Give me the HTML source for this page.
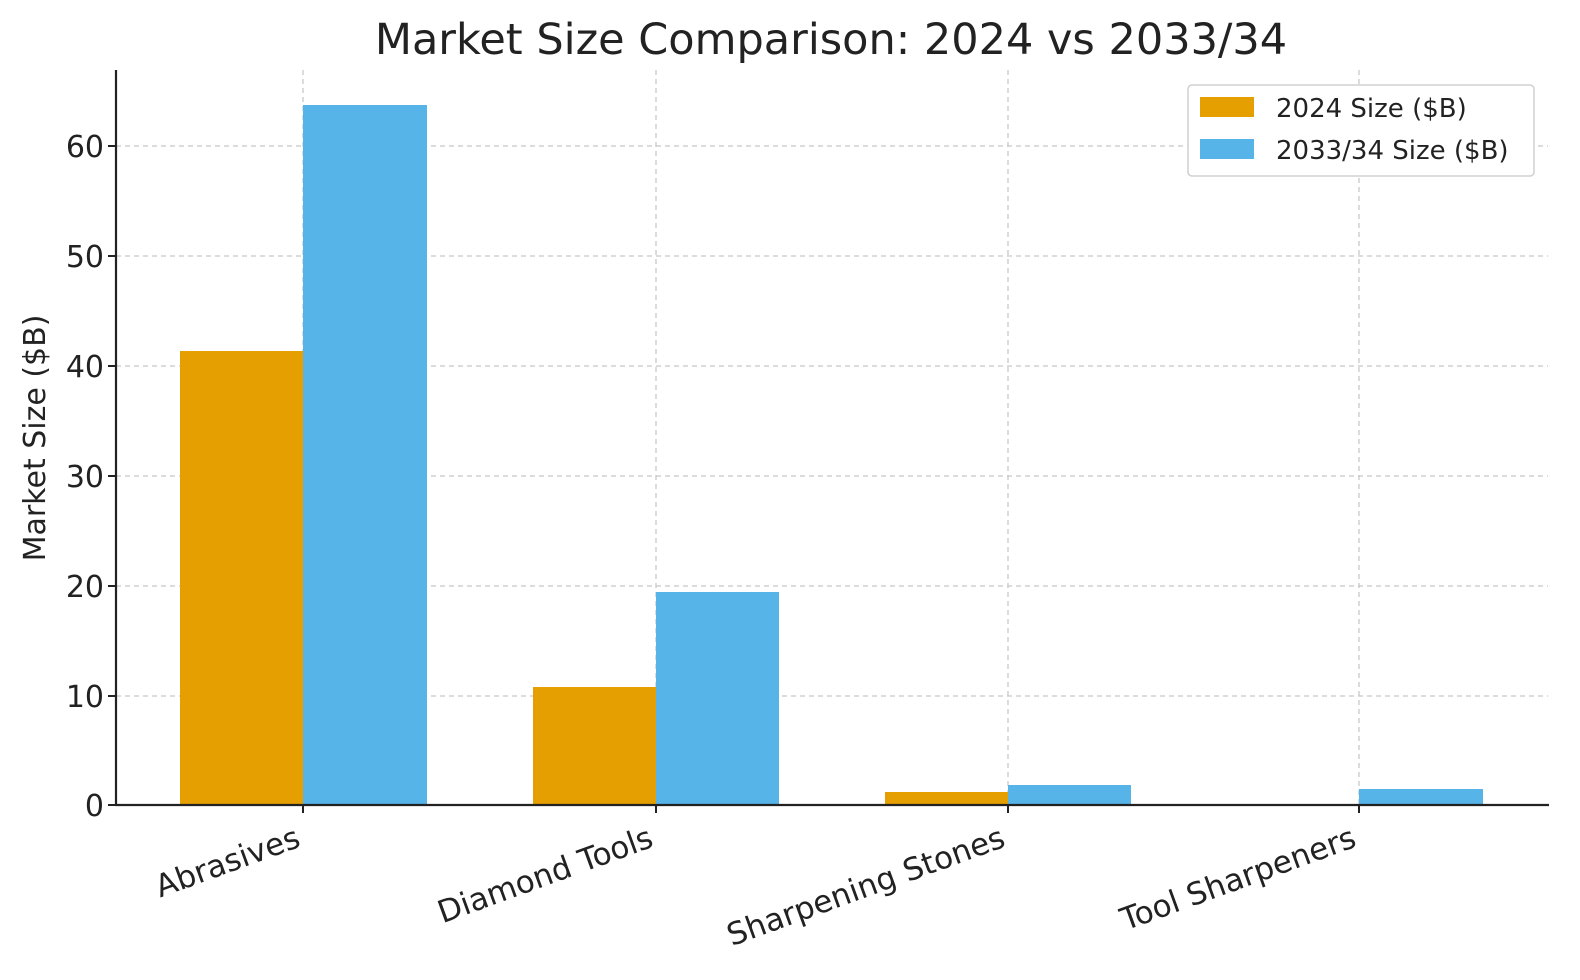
<!DOCTYPE html>
<html><head><meta charset="utf-8"><style>
html,body{margin:0;padding:0;background:#fff}
svg{display:block}
text{font-family:"DejaVu Sans","Liberation Sans",sans-serif;fill:#222}
</style></head><body>
<svg width="1580" height="980" viewBox="0 0 1580 980" xmlns="http://www.w3.org/2000/svg">
<text x="831" y="54" font-size="43" text-anchor="middle" fill="#333">Market Size Comparison: 2024 vs 2033/34</text>
<g stroke="#c8c8c8" stroke-width="1.3" stroke-dasharray="5,4">
<line x1="116" x2="1548" y1="696" y2="696"/><line x1="116" x2="1548" y1="586" y2="586"/>
<line x1="116" x2="1548" y1="476" y2="476"/><line x1="116" x2="1548" y1="366" y2="366"/>
<line x1="116" x2="1548" y1="256" y2="256"/><line x1="116" x2="1548" y1="146" y2="146"/>
<line x1="303" x2="303" y1="70" y2="805"/><line x1="656" x2="656" y1="70" y2="805"/>
<line x1="1008" x2="1008" y1="70" y2="805"/><line x1="1359" x2="1359" y1="70" y2="805"/>
</g>
<g fill="#e69f00">
<rect x="180" y="351" width="123" height="454"/>
<rect x="533" y="687" width="123" height="118"/>
<rect x="885" y="792" width="123" height="13"/>
</g>
<g fill="#56b4e9">
<rect x="303" y="105" width="124" height="700"/>
<rect x="656" y="592" width="123" height="213"/>
<rect x="1008" y="785" width="123" height="20"/>
<rect x="1359" y="789" width="124" height="16"/>
</g>
<line x1="116" y1="70" x2="116" y2="806" stroke="#222" stroke-width="2.2"/>
<line x1="115" y1="805" x2="1549" y2="805" stroke="#222" stroke-width="2.2"/>
<g stroke="#222" stroke-width="2">
<line x1="108" x2="116" y1="805" y2="805"/><line x1="108" x2="116" y1="696" y2="696"/>
<line x1="108" x2="116" y1="586" y2="586"/><line x1="108" x2="116" y1="476" y2="476"/>
<line x1="108" x2="116" y1="366" y2="366"/><line x1="108" x2="116" y1="256" y2="256"/>
<line x1="108" x2="116" y1="146" y2="146"/>
<line x1="303" x2="303" y1="805" y2="813"/><line x1="656" x2="656" y1="805" y2="813"/>
<line x1="1008" x2="1008" y1="805" y2="813"/><line x1="1359" x2="1359" y1="805" y2="813"/>
</g>
<g font-size="30" text-anchor="end">
<text x="104" y="816">0</text><text x="104" y="707">10</text><text x="104" y="597">20</text>
<text x="104" y="487">30</text><text x="104" y="377">40</text><text x="104" y="267">50</text>
<text x="104" y="157">60</text>
</g>
<text transform="translate(45,438) rotate(-90)" font-size="30" text-anchor="middle">Market Size ($B)</text>
<g font-size="31" text-anchor="end">
<text transform="translate(302,846) rotate(-20)">Abrasives</text>
<text transform="translate(655,846) rotate(-20)">Diamond Tools</text>
<text transform="translate(1007,846) rotate(-20)">Sharpening Stones</text>
<text transform="translate(1358,846) rotate(-20)">Tool Sharpeners</text>
</g>
<rect x="1188" y="85" width="346" height="91" rx="4" fill="#fff" stroke="#d0d0d0" stroke-width="1.5"/>
<rect x="1200" y="97" width="54" height="20" fill="#e69f00"/>
<rect x="1200" y="139" width="54" height="20" fill="#56b4e9"/>
<text x="1276" y="117" font-size="26" fill="#333">2024 Size ($B)</text>
<text x="1276" y="159" font-size="26" fill="#333">2033/34 Size ($B)</text>
</svg>
</body></html>
